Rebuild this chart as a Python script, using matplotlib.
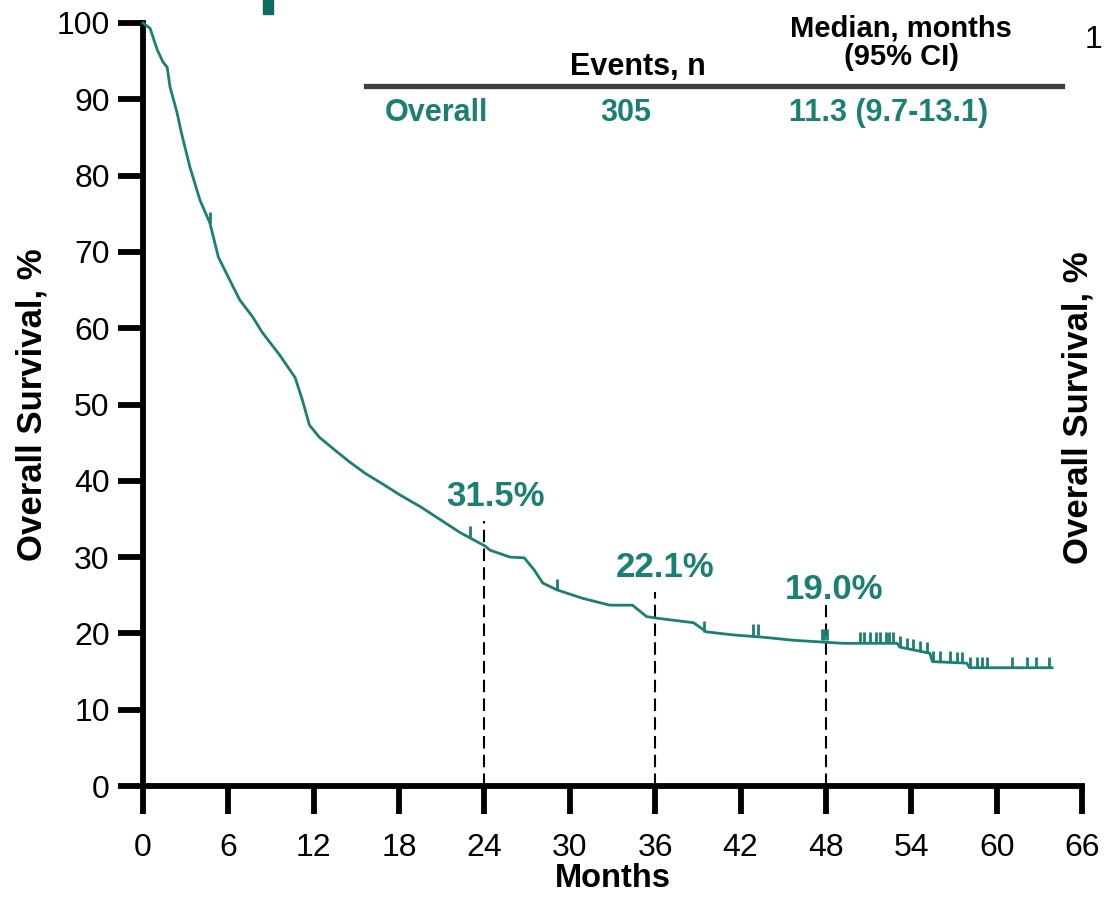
import matplotlib
matplotlib.use("Agg")
import matplotlib.pyplot as plt
from matplotlib.patches import Rectangle

plt.rcParams['font.family'] = ['Liberation Sans', 'DejaVu Sans']

# Courbe KM (mois, survie %)
months = [0, 0.5, 1.0, 1.4, 1.7, 1.9, 2.4, 2.7, 3.3, 4.0, 4.7, 5.3, 6.1, 6.8, 7.7, 8.4,
          9.6, 10.7, 11.2, 11.7, 12.4, 13.5, 14.5, 15.6, 17.0, 18.1, 19.5, 20.9,
          22.3, 23.3, 24.0, 24.4, 25.8, 26.8, 27.5, 28.1, 29.1, 30.9, 32.8, 34.4,
          35.4, 36.1, 38.7, 39.6, 41.5, 43.6, 45.7, 49.2, 53.0, 53.2, 55.3, 55.5,
          57.9, 58.1, 63.9]
survival = [100, 99.3, 96.5, 94.9, 94.2, 91.6, 88.2, 85.6, 81.1, 76.8, 73.8, 69.3, 66.3,
            63.7, 61.5, 59.4, 56.5, 53.5, 50.6, 47.3, 45.7, 44.0, 42.5, 41.0, 39.4,
            38.1, 36.6, 34.9, 33.2, 32.2, 31.5, 30.9, 30.0, 29.9, 28.3, 26.6, 25.7,
            24.6, 23.7, 23.7, 22.2, 22.0, 21.4, 20.2, 19.8, 19.5, 19.1, 18.7, 18.7,
            18.2, 17.4, 16.3, 16.1, 15.5, 15.5]

# Censures
cens_t = [4.7, 23.0, 29.1, 39.4, 42.9, 43.2, 47.7, 47.9, 48.1,
          50.4, 50.7, 51.1, 51.5, 51.8, 52.2, 52.4, 52.7,
          53.2, 53.7, 54.1, 54.6, 55.1,
          55.5, 56.0, 56.7, 57.2, 57.6,
          58.1, 58.6, 59.0, 59.3, 61.1, 62.1, 62.8, 63.7]
cens_s = [73.8, 32.6, 25.7, 20.2, 19.8, 19.8, 19.1, 19.1, 19.1,
          18.7, 18.7, 18.7, 18.7, 18.7, 18.7, 18.7, 18.7,
          18.2, 18.0, 17.8, 17.6, 17.4,
          16.3, 16.2, 16.2, 16.1, 16.1,
          15.5, 15.5, 15.5, 15.5, 15.5, 15.5, 15.5, 15.5]

# Repères
landmark_t = [24, 36, 48]
landmark_top = [34.7, 25.4, 23.7]
landmark_lbl = ["31.5%", "22.1%", "19.0%"]
landmark_lbl_xy = [(24.8, 38.0), (36.7, 28.7), (48.6, 25.7)]

teal = '#1b7f73'

fig = plt.figure(figsize=(11.07, 9.16), dpi=100)
ax = fig.add_axes([143/1107, 1-786/916, (1082-143)/1107, (786-23)/916])

ax.plot(months, survival, color=teal, lw=2.0, zorder=3, clip_on=False)
ax.plot(cens_t, cens_s, ls='none', marker=2, ms=8, mew=2, color=teal, zorder=3)

for t, top in zip(landmark_t, landmark_top):
    ax.plot([t, t], [0, top], color='black', lw=1.5, ls=(0, (6, 3)), zorder=2)
for lbl, (x, y) in zip(landmark_lbl, landmark_lbl_xy):
    ax.text(x, y, lbl, color=teal, fontsize=25, fontweight='bold', ha='center', va='center')

# Tableau
ax.plot([15.7, 64.6], [91.7, 91.7], color='#3a3f3f', lw=3.8, clip_on=False)
ax.text(34.8, 94.2, "Events, n", fontsize=22, fontweight='bold', ha='center', va='center')
ax.text(53.3, 97.4, "Median, months\n(95% CI)", fontsize=21, fontweight='bold',
        ha='center', va='center', linespacing=1.0)
ax.text(20.6, 88.2, "Overall", fontsize=22, fontweight='bold', color=teal, ha='center', va='center')
ax.text(33.9, 88.2, "305", fontsize=22, fontweight='bold', color=teal, ha='center', va='center')
ax.text(52.4, 88.2, "11.3 (9.7-13.1)", fontsize=22, fontweight='bold', color=teal,
        ha='center', va='center')

ax.set_xlim(0, 66)
ax.set_ylim(0, 100)
ax.set_xticks(range(0, 67, 6))
ax.set_yticks(range(0, 101, 10))
for s in ['top', 'right']:
    ax.spines[s].set_visible(False)
for s in ['left', 'bottom']:
    ax.spines[s].set_linewidth(4.2)
ax.tick_params(axis='both', width=4.2, labelsize=23)
ax.tick_params(axis='x', length=20, pad=14)
ax.tick_params(axis='y', length=18, pad=6)
ax.set_xlabel("Months", fontsize=23.5, fontweight='bold', labelpad=0)
ax.set_ylabel("Overall Survival, %", fontsize=25, fontweight='bold', labelpad=6)

# Morceaux du panneau voisin (image recadrée)
fig.text(1085/1107, 1-40/916, "1", fontsize=23, ha='left', va='center')
fig.text(1078/1107, 1-408/916, "Overall Survival, %", fontsize=25, fontweight='bold',
         rotation=90, ha='center', va='center')
fig.patches.append(Rectangle((263/1107, 1-14/916), 10/1107, 14/916,
                             transform=fig.transFigure, color='#0f6b5f'))

fig.savefig("out.png", dpi=100)
